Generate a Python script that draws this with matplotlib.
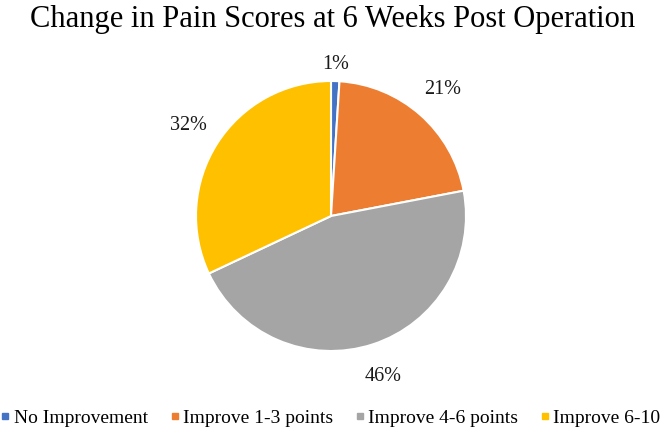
import matplotlib

matplotlib.use("Agg")
import matplotlib.pyplot as plt
from matplotlib.lines import Line2D

plt.rcParams["font.family"] = ["Liberation Serif", "DejaVu Serif"]

categories = ["No Improvement", "Improve 1-3 points", "Improve 4-6 points", "Improve 6-10"]
shares = [1, 21, 46, 32]
colors = ["#4472C4", "#ED7D31", "#A5A5A5", "#FFC000"]

fig = plt.figure(figsize=(6.67, 4.30), dpi=100)

# pie centre ~ (331, 216) px, radius ~135 px
cx, cy, r = 331, 216, 135
W, H = 667, 430
ax = fig.add_axes([(cx - r) / W, (H - cy - r) / H, 2 * r / W, 2 * r / H])

wedges, _, autotexts = ax.pie(
    shares,
    colors=colors,
    startangle=90,
    counterclock=False,
    autopct="%1.0f%%",
    pctdistance=1.25,
    labeldistance=None,
    wedgeprops=dict(edgecolor="white", linewidth=1.5),
    textprops=dict(fontsize=14.5, color="#1a1a1a"),
)
# the tiny slice label sits closer in
x, y = autotexts[0].get_position()
autotexts[0].set_position((x * 1.12 / 1.25, y * 1.12 / 1.25))
ax.set_xlim(-1, 1)
ax.set_ylim(-1, 1)
ax.set_aspect("equal")
ax.axis("off")

fig.text(333 / W, 1 - 20 / H, "Change in Pain Scores at 6 Weeks Post Operation",
         ha="center", va="center", fontsize=22, color="black")

handles = [Line2D([], [], marker="s", linestyle="none", markersize=4,
                  markerfacecolor=c, markeredgecolor=c) for c in colors]
fig.legend(handles, categories, loc="center", bbox_to_anchor=(331 / W, 1 - 418 / H),
           ncol=4, frameon=False, fontsize=14, handlelength=0.4, handletextpad=0.25,
           columnspacing=1.15, borderaxespad=0, borderpad=0)

fig.savefig("out.png", dpi=100)
